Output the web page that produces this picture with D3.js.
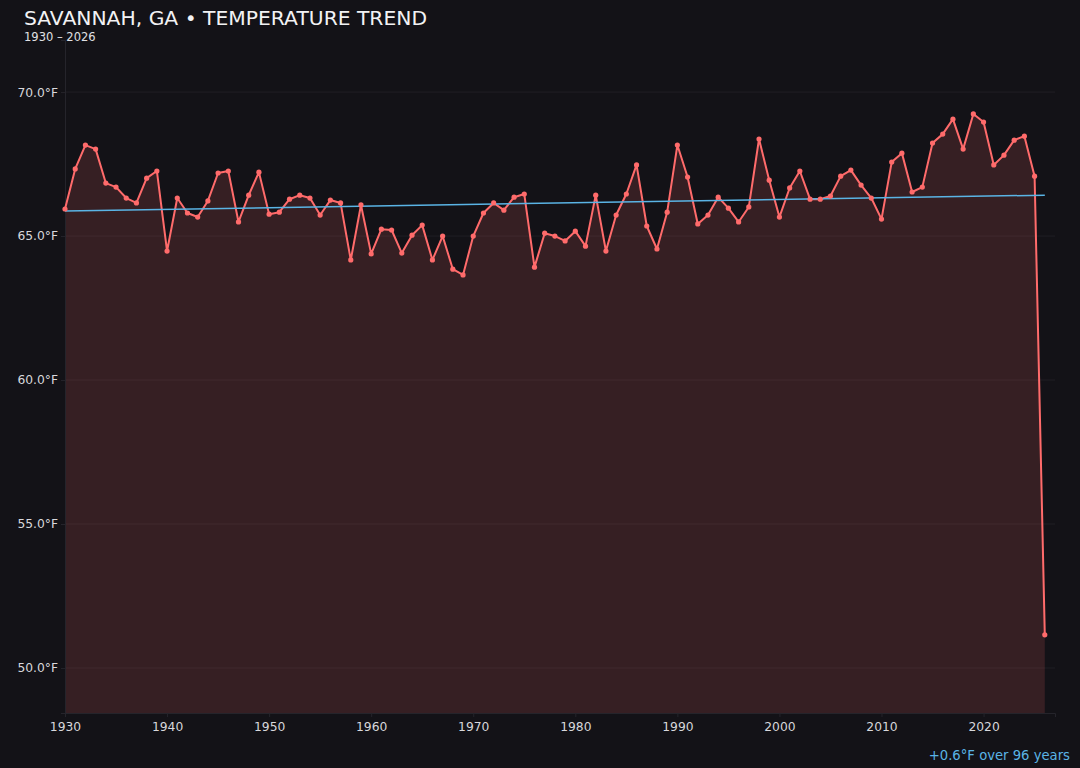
<!DOCTYPE html>
<html>
<head>
<meta charset="utf-8">
<script src="https://cdn.jsdelivr.net/npm/d3@7"></script>
<style>
  html, body { margin: 0; padding: 0; background: #131217; }
  svg { display: block; font-family: "DejaVu Sans", sans-serif; }
</style>
</head>
<body>
<svg id="chart" width="1080" height="768"></svg>
<script>
// 年份與年均溫 (°F)
const years = d3.range(1930, 2027);
const temps = [
  65.94, 67.33, 68.16, 68.02, 66.84, 66.70, 66.32, 66.15, 67.01, 67.26,
  64.48, 66.32, 65.80, 65.66, 66.22, 67.19, 67.26, 65.49, 66.42, 67.22,
  65.76, 65.83, 66.28, 66.42, 66.32, 65.73, 66.25, 66.15, 64.17, 66.08,
  64.38, 65.24, 65.21, 64.41, 65.03, 65.38, 64.17, 65.00, 63.85, 63.65,
  65.00, 65.80, 66.15, 65.90, 66.35, 66.46, 63.92, 65.10, 65.00, 64.83,
  65.17, 64.65, 66.42, 64.48, 65.73, 66.46, 67.47, 65.35, 64.55, 65.83,
  68.16, 67.05, 65.42, 65.73, 66.35, 65.97, 65.49, 66.01, 68.37, 66.94,
  65.66, 66.67, 67.26, 66.28, 66.28, 66.39, 67.08, 67.29, 66.77, 66.32,
  65.59, 67.57, 67.88, 66.53, 66.70, 68.23, 68.54, 69.06, 68.02, 69.24,
  68.96, 67.47, 67.81, 68.33, 68.47, 67.08, 51.15
];
// 趨勢線兩端 (1930, 2026)
const trendYears = [1930, 2026];
const trendTemps = [65.87, 66.42];

const yTicks = [50, 55, 60, 65, 70];
const xTicks = [1930, 1940, 1950, 1960, 1970, 1980, 1990, 2000, 2010, 2020];

const title = "SAVANNAH, GA • TEMPERATURE TREND";
const subtitle = "1930 – 2026";
const note = "+0.6°F over 96 years";

const data = years.map((yr, i) => ({ year: yr, temp: temps[i] }));

const W = 1080, H = 768;
const margin = { top: 40, right: 25, bottom: 55, left: 65 };

const svg = d3.select("#chart");
svg.append("rect").attr("width", W).attr("height", H).attr("fill", "#131217");

const x = d3.scaleLinear()
  .domain([1930, 2027])
  .range([margin.left, W - margin.right]);

const ext = d3.extent(temps);
const span = ext[1] - ext[0];
const y = d3.scaleLinear()
  .domain([ext[0] - span * 0.15, ext[1] + span * 0.142])
  .range([H - margin.bottom, margin.top]);

// 格線
svg.append("g")
  .selectAll("line")
  .data(yTicks)
  .join("line")
  .attr("x1", margin.left)
  .attr("x2", W - margin.right)
  .attr("y1", d => y(d))
  .attr("y2", d => y(d))
  .attr("stroke", "#1e1d23")
  .attr("stroke-width", 1);

// 面積
const area = d3.area()
  .x(d => x(d.year))
  .y0(H - margin.bottom)
  .y1(d => y(d.temp));

svg.append("path")
  .datum(data)
  .attr("d", area)
  .attr("fill", "#ff6b6b")
  .attr("fill-opacity", 0.15);

// 面積上方的淡格線
svg.append("g")
  .selectAll("line")
  .data(yTicks)
  .join("line")
  .attr("x1", margin.left)
  .attr("x2", W - margin.right)
  .attr("y1", d => y(d))
  .attr("y2", d => y(d))
  .attr("stroke", "#ffffff")
  .attr("stroke-opacity", 0.018);

// 座標軸
const yAxis = svg.append("g")
  .attr("transform", `translate(${margin.left},0)`)
  .call(d3.axisLeft(y).tickValues(yTicks).tickSize(4).tickFormat(d => d3.format(".1f")(d) + "°F"));

const xAxis = svg.append("g")
  .attr("transform", `translate(0,${H - margin.bottom})`)
  .call(d3.axisBottom(x).tickValues(xTicks).tickSize(4).tickFormat(d3.format("d")));

[xAxis, yAxis].forEach(g => {
  g.select(".domain").attr("stroke", "#25242b");
  g.selectAll(".tick line").attr("stroke", "#25242b");
  g.selectAll(".tick text")
    .attr("fill", "#d8d8dc")
    .attr("font-size", 12.3)
    .attr("font-family", "DejaVu Sans, sans-serif");
});
xAxis.selectAll(".tick text").attr("dy", "0.9em");

// 折線
const line = d3.line()
  .x(d => x(d.year))
  .y(d => y(d.temp));

svg.append("path")
  .datum(data)
  .attr("d", line)
  .attr("fill", "none")
  .attr("stroke", "#ff6b6b")
  .attr("stroke-width", 2)
  .attr("stroke-linejoin", "round");

// 趨勢線
svg.append("line")
  .attr("x1", x(trendYears[0]))
  .attr("y1", y(trendTemps[0]))
  .attr("x2", x(trendYears[1]))
  .attr("y2", y(trendTemps[1]))
  .attr("stroke", "#5ab4e5")
  .attr("stroke-width", 1.5);

// 資料點
svg.append("g")
  .selectAll("circle")
  .data(data)
  .join("circle")
  .attr("cx", d => x(d.year))
  .attr("cy", d => y(d.temp))
  .attr("r", 2.6)
  .attr("fill", "#ff6b6b");

// 標題
svg.append("text")
  .attr("x", 24)
  .attr("y", 24.5)
  .attr("fill", "#f2f2f4")
  .attr("font-size", 20.3)
  .text(title);

svg.append("text")
  .attr("x", 24)
  .attr("y", 41)
  .attr("fill", "#e0e0e4")
  .attr("font-size", 11.5)
  .text(subtitle);

svg.append("text")
  .attr("x", 1070)
  .attr("y", 760)
  .attr("text-anchor", "end")
  .attr("fill", "#5ab4e5")
  .attr("font-size", 13.2)
  .text(note);
</script>
</body>
</html>
